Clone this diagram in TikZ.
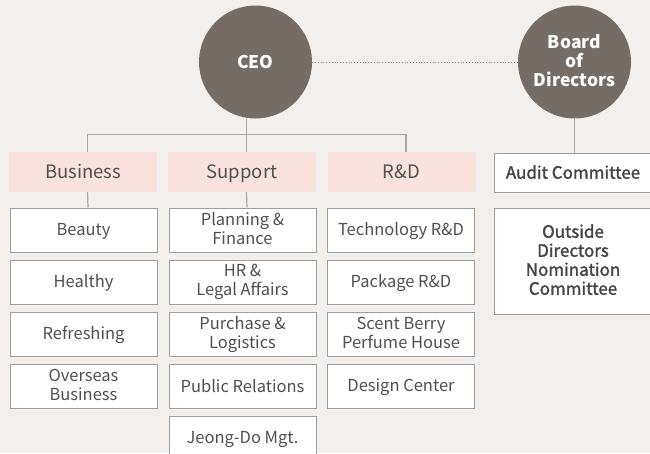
\documentclass[tikz,border=0pt]{standalone}
\usepackage{fontspec}
\setmainfont{Noto Sans CJK KR}
\newfontfamily\medfont{Noto Sans CJK KR}[FakeBold=1.6]
\newcommand{\PITCH}{52}
\newcommand{\LOFF}{4.5pt}
% a strut that centres a line on its capitals
\newcommand{\capstrut}{\rule[-3pt]{0pt}{\dimexpr\fontcharht\font`H+6pt\relax}}
\definecolor{orgbg}{RGB}{242,239,236}
\definecolor{orghead}{RGB}{248,226,221}
\definecolor{orgdisc}{RGB}{117,108,102}
\definecolor{orgline}{RGB}{168,168,168}
\definecolor{orgedge}{RGB}{158,158,158}
\definecolor{orgtext}{RGB}{80,80,80}

\begin{document}
\begin{tikzpicture}[
    x=1pt, y=-1pt,
    capped/.style={execute at begin node=\capstrut, execute at end node=\capstrut},
    disc/.style={circle, fill=orgdisc, minimum size=113pt, inner sep=0pt, text=white, capped,
      align=center, font=\fontsize{17.5}{19}\selectfont\bfseries},
    head/.style={rectangle, fill=orghead, minimum width=148pt, minimum height=40pt, inner sep=0pt,
      text=orgtext, capped, font=\fontsize{18.5}{20}\selectfont},
    unit/.style={rectangle, draw=orgedge, fill=white, line width=1pt, minimum width=147pt,
      minimum height=44pt, inner sep=0pt, align=center, text=orgtext, capped,
      font=\fontsize{16.5}{19}\selectfont},
    board unit/.style={unit, minimum width=158pt, text=orgtext!85!black,
      font=\fontsize{17}{19}\selectfont\medfont},
    conn/.style={draw=orgline, line width=1.2pt},
    dotline/.style={draw=orgline!80!black, line width=0.8pt, dotted},
  ]
  \useasboundingbox (0,0) rectangle (650,453);
  \fill[orgbg] (0,0) rectangle (650,453);

  %% ================= top: CEO and the board =================
  \node[disc] (ceo)   at (255.5,62) {CEO};
  \node[disc] (board) at (574.5,62) {Board\\of\\Directors};
  \draw[dotline] (ceo.east) -- (board.west);

  %% ================= the three divisions =================
  \node[head] (hbiz) at (83,172)    {Business};
  \node[head] (hsup) at (242,172)   {Support};
  \node[head] (hrnd) at (401.5,172) {R\&D};

  \foreach \t [count=\i] in {Beauty, Healthy, Refreshing, {Overseas\\Business}} {
    \node[unit] (b\i) at (83.5,{230+(\i-1)*\PITCH}) {\t};
  }
  \foreach \t [count=\i] in {{Planning \&\\Finance}, {HR \&\\Legal Affairs}, {Purchase \&\\Logistics},
      Public Relations, Jeong-Do Mgt.} {
    \node[unit] (s\i) at (242.5,{230+(\i-1)*\PITCH}) {\t};
  }
  \foreach \t [count=\i] in {Technology R\&D, Package R\&D, {Scent Berry\\Perfume House}, Design Center} {
    \node[unit] (r\i) at (401,{230+(\i-1)*\PITCH}) {\t};
  }

  % the rail under the CEO
  \draw[conn] ([xshift=\LOFF]hbiz.north) -- ++(0,-17) -| ([xshift=\LOFF]hrnd.north);
  \draw[conn] ([xshift=\LOFF]hsup.north) -- ([xshift=\LOFF]hsup.north |- ceo.south);
  \draw[conn] ([xshift=\LOFF]hbiz.south) -- ([xshift=\LOFF]b1.north);
  \draw[conn] ([xshift=\LOFF]hsup.south) -- ([xshift=\LOFF]s1.north);

  %% ================= committees of the board =================
  \node[board unit, minimum height=39pt]  (audit)   at (573,172.5) {Audit Committee};
  \node[board unit, minimum height=106pt] (outside) at (573,261) {Outside\\Directors\\Nomination\\Committee};
  \draw[conn] (board.south) -- (board.south |- audit.north);
\end{tikzpicture}
\end{document}
